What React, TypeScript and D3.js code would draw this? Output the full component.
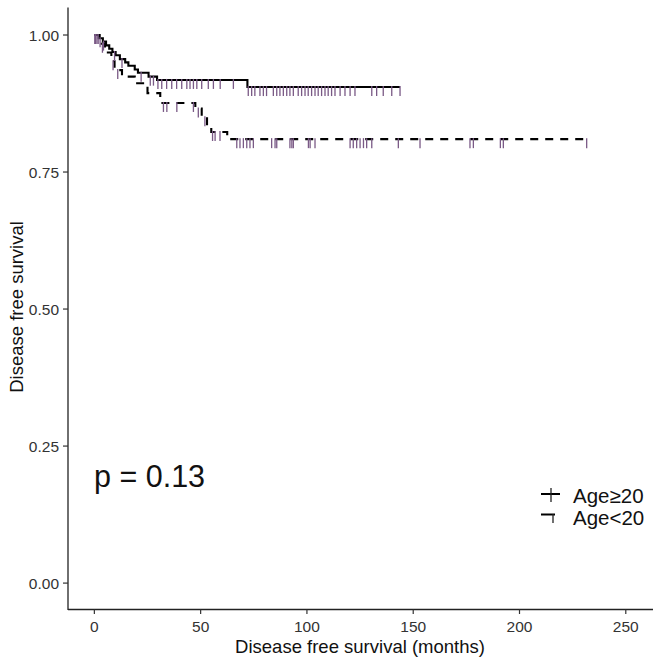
import React from "react";
import * as d3 from "d3";

// ---- Data ----
// Age>=20 (solid)
const solidTimes = [0, 2, 4, 5.5, 7, 8.5, 10, 12, 14.5, 16, 19, 20.5, 25.5, 29.5, 72];
const solidSurv = [1.0, 0.994, 0.988, 0.981, 0.975, 0.969, 0.963, 0.956, 0.95, 0.944, 0.937, 0.931, 0.924, 0.918, 0.905];
const solidEnd = 143.8;
const solidCensor = [
  0.5, 1.2, 2.7, 4.3, 9.5, 13, 22, 26.3, 27.8, 29.9, 31.7, 34, 36.4, 38.7, 41.1, 43.5, 45, 46.6, 48.2, 50.5,
  53.6, 56, 59.2, 65.4, 72.4, 74, 75.5, 77.9, 79.5, 81, 84.2, 85.8, 87.3, 88.9, 90.5, 92, 93.6, 95.9, 97.5,
  99.1, 100.6, 102.2, 103.8, 105.3, 106.9, 108.5, 110, 111.6, 113.2, 115.6, 117.9, 120.3, 122.6, 130.5,
  132.8, 135.9, 139.9, 143.8,
];

// Age<20 (dashed)
const dashTimes = [0, 2.5, 5, 8, 9.5, 13, 19, 25, 31, 47.5, 50.5, 53, 55, 62.5];
const dashSurv = [1.0, 0.984, 0.968, 0.952, 0.936, 0.924, 0.912, 0.894, 0.876, 0.866, 0.85, 0.835, 0.823, 0.81];
const dashEnd = 231.6;
const dashCensor = [
  0.2, 1.8, 3.8, 8.8, 11, 32.5, 34.1, 38.8, 46.6, 48.9, 52, 55.6, 56.8, 59.1, 67, 68.5, 70.1, 71.7, 73.2,
  74.8, 83.4, 85, 85.8, 92, 92.9, 93.6, 100.7, 101.5, 103.8, 120.3, 121.8, 123.4, 125, 126.6, 128.1, 130.5,
  143, 153.2, 176.7, 178.3, 191, 192.4, 231.6,
];

const xTicks = [0, 50, 100, 150, 200, 250];
const yTicks = [0, 0.25, 0.5, 0.75, 1.0];
const legendLabels = ["Age\u226520", "Age<20"];
const pText = "p = 0.13";

const FONT = "'Liberation Sans', Arial, Helvetica, sans-serif";
const CENSOR_COLOR = "#7a5a86";

function survAt(times: number[], surv: number[], t: number) {
  let s = surv[0];
  for (let i = 0; i < times.length; i++) if (times[i] <= t) s = surv[i];
  return s;
}

export default function App() {
  const W = 662;
  const H = 665;
  const x = d3.scaleLinear().domain([-12.4, 262.8]).range([68, 653]);
  const y = d3.scaleLinear().domain([-0.05, 1.05]).range([610.5, 7.6]);

  const line = d3
    .line<[number, number]>()
    .x((d) => x(d[0]))
    .y((d) => y(d[1]))
    .curve(d3.curveStepAfter);

  const solidPts: [number, number][] = solidTimes.map((t, i) => [t, solidSurv[i]]);
  solidPts.push([solidEnd, solidSurv[solidSurv.length - 1]]);
  const dashPts: [number, number][] = dashTimes.map((t, i) => [t, dashSurv[i]]);
  dashPts.push([dashEnd, dashSurv[dashSurv.length - 1]]);

  const censorMark = (cx: number, cy: number, key: string) => (
    <line key={key} x1={cx} x2={cx} y1={cy - 1} y2={cy + 9} stroke={CENSOR_COLOR} strokeWidth={1.3} />
  );

  return (
    <svg width={W} height={H} style={{ position: "absolute", left: 0, top: 0, background: "#fff" }}>
      <rect width={W} height={H} fill="#fff" />
      {/* axes */}
      <line x1={68} x2={68} y1={7.6} y2={610} stroke="#222" strokeWidth={1.3} />
      <line x1={68} x2={653} y1={609.5} y2={609.5} stroke="#222" strokeWidth={1.3} />
      {yTicks.map((v) => (
        <g key={"y" + v}>
          <line x1={63} x2={68} y1={y(v)} y2={y(v)} stroke="#333" strokeWidth={1.2} />
          <text x={59} y={y(v)} dy="0.36em" textAnchor="end" fontFamily={FONT} fontSize={15.5} fill="#333">
            {v.toFixed(2)}
          </text>
        </g>
      ))}
      {xTicks.map((v) => (
        <g key={"x" + v}>
          <line x1={x(v)} x2={x(v)} y1={609.5} y2={614} stroke="#333" strokeWidth={1.2} />
          <text x={x(v)} y={631.5} textAnchor="middle" fontFamily={FONT} fontSize={15.5} fill="#333">
            {v}
          </text>
        </g>
      ))}
      <text x={360} y={653} textAnchor="middle" fontFamily={FONT} fontSize={18.5} fill="#111">
        Disease free survival (months)
      </text>
      <text
        transform={`translate(22.5,307) rotate(-90)`}
        textAnchor="middle"
        fontFamily={FONT}
        fontSize={18.5}
        fill="#111"
      >
        Disease free survival
      </text>

      {/* curves */}
      <path d={line(solidPts) || ""} fill="none" stroke="#000" strokeWidth={2.1} />
      <path d={line(dashPts) || ""} fill="none" stroke="#000" strokeWidth={2.1} strokeDasharray="8,7" />

      {/* censor marks */}
      {solidCensor.map((t, i) => censorMark(x(t), y(survAt(solidTimes, solidSurv, t)), "s" + i))}
      {dashCensor.map((t, i) => censorMark(x(t), y(survAt(dashTimes, dashSurv, t)), "d" + i))}

      {/* p-value */}
      <text x={94} y={487} fontFamily={FONT} fontSize={30.5} fill="#111">
        {pText}
      </text>

      {/* legend */}
      <g>
        <line x1={541} x2={560} y1={494} y2={494} stroke="#000" strokeWidth={2} />
        <line x1={551} x2={551} y1={488} y2={502} stroke="#222" strokeWidth={1.3} />
        <text x={573} y={503} fontFamily={FONT} fontSize={20.5} fill="#111">
          {legendLabels[0]}
        </text>
        <line x1={541} x2={555} y1={514.5} y2={514.5} stroke="#000" strokeWidth={2} />
        <line x1={553} x2={553} y1={514} y2={523} stroke="#222" strokeWidth={1.3} />
        <text x={573} y={525} fontFamily={FONT} fontSize={20.5} fill="#111">
          {legendLabels[1]}
        </text>
      </g>
    </svg>
  );
}
